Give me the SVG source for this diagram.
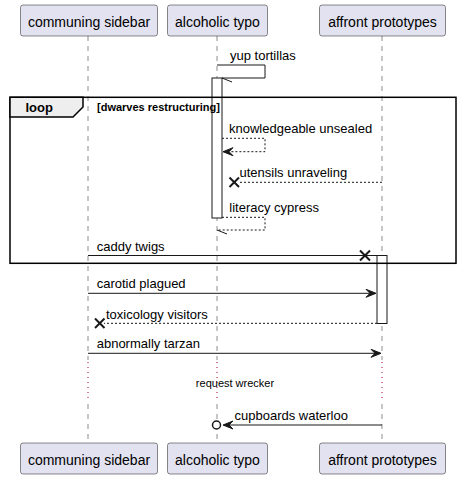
<svg xmlns="http://www.w3.org/2000/svg" width="460" height="479" viewBox="0 0 460 479">
<defs>
<style>
.pbox{fill:#E2E2F0;stroke:#181818;stroke-width:0.5}
.ptxt{font-family:"Liberation Sans",Arial,sans-serif;font-size:14px;fill:#000}
.life{stroke:#181818;stroke-width:0.5;stroke-dasharray:5,5;fill:none}
.delay{stroke:#A80036;stroke-width:1;stroke-dasharray:1,4;fill:none}
.msg{stroke:#181818;stroke-width:1;fill:none}
.dash{stroke:#181818;stroke-width:1;stroke-dasharray:2,2;fill:none}
.head{fill:#181818;stroke:#181818;stroke-width:1}
.x{stroke:#181818;stroke-width:2}
.mtxt{font-family:"Liberation Sans",Arial,sans-serif;font-size:13px;fill:#000}
.act{fill:#FFFFFF;stroke:#181818;stroke-width:1}
</style>
</defs>
<g id="lifelines">
<line class="life" x1="88" y1="36" x2="88" y2="360"/>
<line class="life" x1="217" y1="36" x2="217" y2="360"/>
<line class="life" x1="382" y1="36" x2="382" y2="360"/>
<line class="delay" x1="88" y1="362" x2="88" y2="402"/>
<line class="delay" x1="217" y1="362" x2="217" y2="402"/>
<line class="delay" x1="382" y1="362" x2="382" y2="402"/>
<line class="life" x1="88" y1="404" x2="88" y2="443"/>
<line class="life" x1="217" y1="404" x2="217" y2="443"/>
<line class="life" x1="382" y1="404" x2="382" y2="443"/>
</g>
<g id="activations">
<rect class="act" x="212" y="78" width="10" height="140"/>
<rect class="act" x="377" y="255.5" width="10" height="68"/>
</g>
<g id="loop-frame">
<rect x="10" y="97.3" width="446" height="166" fill="none" stroke="#000" stroke-width="1.5"/>
<polygon points="10,97.3 83,97.3 83,107 73,117 10,117" fill="#EEEEEE" stroke="#000" stroke-width="1.5"/>
<text x="25.5" y="111.5" font-family="'Liberation Sans',Arial,sans-serif" font-size="13" font-weight="bold">loop</text>
<text x="97" y="110.5" font-family="'Liberation Sans',Arial,sans-serif" font-size="11" font-weight="bold">[dwarves restructuring]</text>
</g>
<g id="connectors">
<!-- yup tortillas -->
<polyline class="msg" points="217,65 265,65 265,78 222,78"/>
<line class="msg" x1="222" y1="78" x2="232" y2="82"/>
<text class="mtxt" x="230" y="59.5">yup tortillas</text>
<!-- knowledgeable unsealed -->
<polyline class="dash" points="222,138.3 265,138.3 265,151.7 223,151.7"/>
<polygon class="head" points="223,151.7 233,147.7 229,151.7 233,155.7"/>
<text class="mtxt" x="229" y="133">knowledgeable unsealed</text>
<!-- utensils unraveling -->
<line class="dash" x1="382" y1="182.3" x2="238" y2="182.3"/>
<line class="x" x1="229.5" y1="177.5" x2="239" y2="187"/>
<line class="x" x1="229.5" y1="187" x2="239" y2="177.5"/>
<text class="mtxt" x="239.5" y="177">utensils unraveling</text>
<!-- literacy cypress -->
<polyline class="dash" points="222,217.3 265,217.3 265,230 217,230"/>
<line class="msg" x1="217" y1="230" x2="227" y2="234"/>
<text class="mtxt" x="229.3" y="212">literacy cypress</text>
<!-- caddy twigs -->
<line class="msg" x1="88" y1="255.5" x2="377" y2="255.5"/>
<line class="x" x1="360" y1="250.5" x2="370" y2="260.5"/>
<line class="x" x1="360" y1="260.5" x2="370" y2="250.5"/>
<text class="mtxt" x="96.7" y="250.5">caddy twigs</text>
<!-- carotid plagued -->
<line class="msg" x1="88" y1="293.3" x2="375" y2="293.3"/>
<polygon class="head" points="376,293.3 366,289.3 370,293.3 366,297.3"/>
<text class="mtxt" x="96.7" y="288">carotid plagued</text>
<!-- toxicology visitors -->
<line class="dash" x1="377" y1="323.3" x2="104" y2="323.3"/>
<line class="x" x1="95" y1="318.5" x2="104.5" y2="328"/>
<line class="x" x1="95" y1="328" x2="104.5" y2="318.5"/>
<text class="mtxt" x="106" y="318.5">toxicology visitors</text>
<!-- abnormally tarzan -->
<line class="msg" x1="88" y1="353.3" x2="380" y2="353.3"/>
<polygon class="head" points="381,353.3 371,349.3 375,353.3 371,357.3"/>
<text class="mtxt" x="96.7" y="348">abnormally tarzan</text>
<!-- cupboards waterloo -->
<line class="msg" x1="382" y1="425" x2="224" y2="425"/>
<polygon class="head" points="223,425 233,421 229,425 233,429"/>
<circle cx="216.5" cy="425" r="4" fill="#FFFFFF" stroke="#181818" stroke-width="1.5"/>
<text class="mtxt" x="234.5" y="420">cupboards waterloo</text>
</g>
<g id="delay-label">
<text x="235" y="387" text-anchor="middle" font-family="'Liberation Sans',Arial,sans-serif" font-size="11">request wrecker</text>
</g>
<g id="p-communing-top"><rect class="pbox" x="20.5" y="5" width="137" height="31" rx="2.5"/><text class="ptxt" x="89" y="26.5" text-anchor="middle">communing sidebar</text></g>
<g id="p-alcoholic-top"><rect class="pbox" x="167.5" y="5" width="100" height="31" rx="2.5"/><text class="ptxt" x="217.5" y="26.5" text-anchor="middle">alcoholic typo</text></g>
<g id="p-affront-top"><rect class="pbox" x="319.5" y="5" width="126" height="31" rx="2.5"/><text class="ptxt" x="382.5" y="26.5" text-anchor="middle">affront prototypes</text></g>
<g id="p-communing-bottom"><rect class="pbox" x="20.5" y="443" width="137" height="31" rx="2.5"/><text class="ptxt" x="89" y="464.5" text-anchor="middle">communing sidebar</text></g>
<g id="p-alcoholic-bottom"><rect class="pbox" x="167.5" y="443" width="100" height="31" rx="2.5"/><text class="ptxt" x="217.5" y="464.5" text-anchor="middle">alcoholic typo</text></g>
<g id="p-affront-bottom"><rect class="pbox" x="319.5" y="443" width="126" height="31" rx="2.5"/><text class="ptxt" x="382.5" y="464.5" text-anchor="middle">affront prototypes</text></g>
</svg>
